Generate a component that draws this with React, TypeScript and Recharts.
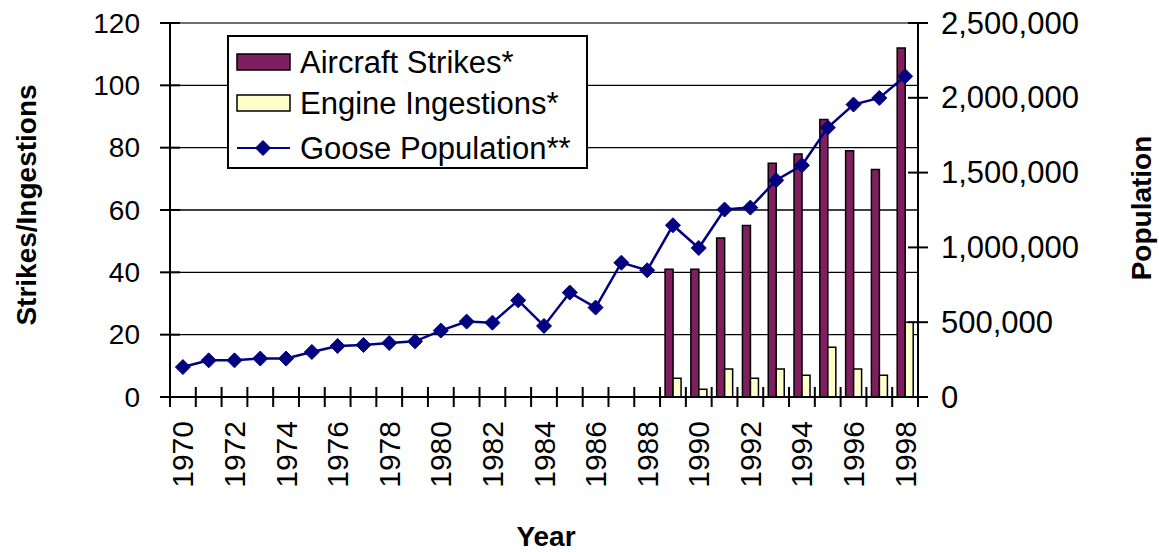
import { ComposedChart, Bar, Line, XAxis, YAxis, CartesianGrid, Legend, ReferenceLine } from "recharts";

const years = [
  "1970", "1971", "1972", "1973", "1974", "1975", "1976", "1977", "1978", "1979",
  "1980", "1981", "1982", "1983", "1984", "1985", "1986", "1987", "1988", "1989",
  "1990", "1991", "1992", "1993", "1994", "1995", "1996", "1997", "1998",
];

const aircraftStrikes = [
  null, null, null, null, null, null, null, null, null, null,
  null, null, null, null, null, null, null, null, null, 41,
  41, 51, 55, 75, 78, 89, 79, 73, 112,
];

const engineIngestions = [
  null, null, null, null, null, null, null, null, null, null,
  null, null, null, null, null, null, null, null, null, 6,
  2.5, 9, 6, 9, 7, 16, 9, 7, 24,
];

const goosePopulation = [
  200000, 245000, 245000, 257000, 257000, 301000, 341000, 348000, 361000, 372000,
  444000, 504000, 497000, 646000, 475000, 698000, 598000, 898000, 847000, 1148000,
  996000, 1253000, 1266000, 1449000, 1549000, 1801000, 1955000, 1999000, 2144000,
];

const leftTicks = [0, 20, 40, 60, 80, 100, 120];
const rightTicks = [0, 500000, 1000000, 1500000, 2000000, 2500000];

const data = years.map((year, i) => ({
  year,
  strikes: aircraftStrikes[i],
  ingestions: engineIngestions[i],
  geese: goosePopulation[i],
}));

const W = 1159;
const H = 552;
const LEFT_W = 170;
const RIGHT_W = 241;
const TOP = 23;
const X_H = 155;
const BAND = (W - LEFT_W - RIGHT_W) / years.length;
const FONT = "'Liberation Sans', Arial, sans-serif";
const NAVY = "#000080";
const PLUM = "#7f1f5f";
const CREAM = "#ffffcc";

function Diamond(props: any) {
  const { cx, cy } = props;
  if (cx == null || cy == null) return null;
  const r = 7.5;
  return (
    <polygon
      points={`${cx},${cy - r} ${cx + r},${cy} ${cx},${cy + r} ${cx - r},${cy}`}
      fill={NAVY}
      stroke={NAVY}
      strokeWidth={1}
    />
  );
}

function YearTick(props: any) {
  const { x, y, index } = props;
  const value = props.payload.value;
  const last = index === years.length - 1;
  return (
    <g>
      <line x1={x - BAND / 2} x2={x - BAND / 2} y1={y - 10} y2={y + 10} stroke="#000" strokeWidth={2} />
      {last && <line x1={x + BAND / 2} x2={x + BAND / 2} y1={y - 10} y2={y + 10} stroke="#000" strokeWidth={2} />}
      {index % 2 === 0 && (
        <text
          x={x}
          y={y + 24}
          transform={`rotate(-90, ${x}, ${y + 24})`}
          textAnchor="end"
          dominantBaseline="central"
          fontSize={30}
          fontFamily={FONT}
          fill="#000"
        >
          {value}
        </text>
      )}
    </g>
  );
}

function LeftTick(props: any) {
  const { x, y } = props;
  return (
    <g>
      <line x1={x - 10} x2={x + 10} y1={y} y2={y} stroke="#000" strokeWidth={2} />
      <text x={x - 30} y={y} textAnchor="end" dominantBaseline="central" fontSize={28} fontFamily={FONT} fill="#000">
        {props.payload.value}
      </text>
    </g>
  );
}

function RightTick(props: any) {
  const { x, y } = props;
  return (
    <g>
      <line x1={x - 10} x2={x + 10} y1={y} y2={y} stroke="#000" strokeWidth={2} />
      <text x={x + 23} y={y} textAnchor="start" dominantBaseline="central" fontSize={31} fontFamily={FONT} fill="#000">
        {Number(props.payload.value).toLocaleString("en-US")}
      </text>
    </g>
  );
}

function LegendBox() {
  const rows = [
    { label: "Aircraft Strikes*", kind: "bar", color: PLUM },
    { label: "Engine Ingestions*", kind: "bar", color: CREAM },
    { label: "Goose Population**", kind: "line", color: NAVY },
  ];
  const rowY = [27, 68, 113];
  return (
    <svg width={361} height={134} style={{ display: "block" }}>
      <rect x={1} y={1} width={359} height={132} fill="#fff" stroke="#000" strokeWidth={2} />
      {rows.map((r, i) => (
        <g key={r.label}>
          {r.kind === "bar" ? (
            <rect x={10} y={rowY[i] - 8} width={53} height={16} fill={r.color} stroke="#000" strokeWidth={1.5} />
          ) : (
            <g>
              <line x1={10} x2={63} y1={rowY[i]} y2={rowY[i]} stroke={r.color} strokeWidth={2} />
              <Diamond cx={36} cy={rowY[i]} />
            </g>
          )}
          <text x={73} y={rowY[i]} dominantBaseline="central" fontSize={31} fontFamily={FONT} fill="#000">
            {r.label}
          </text>
        </g>
      ))}
    </svg>
  );
}

export default function App() {
  return (
    <div style={{ position: "absolute", left: 0, top: 0, background: "#fff" }}>
      <ComposedChart
        width={W}
        height={H}
        data={data}
        margin={{ top: TOP, right: 0, bottom: 0, left: 0 }}
        barGap={0}
        barCategoryGap={0}
      >
        <CartesianGrid horizontal vertical={false} stroke="#000" strokeWidth={1.3} yAxisId="left" />
        <XAxis
          dataKey="year"
          height={X_H}
          interval={0}
          tickSize={0}
          tickMargin={0}
          tickLine={false}
          tick={<YearTick />}
          axisLine={{ stroke: "#000", strokeWidth: 2 }}
          label={{
            content: () => (
              <text x={546} y={536} textAnchor="middle" dominantBaseline="central" fontSize={28} fontWeight="bold" fontFamily={FONT} fill="#000">
                Year
              </text>
            ),
          }}
        />
        <YAxis
          yAxisId="left"
          orientation="left"
          width={LEFT_W}
          domain={[0, 120]}
          ticks={leftTicks}
          interval={0}
          tickSize={0}
          tickMargin={0}
          tickLine={false}
          tick={<LeftTick />}
          axisLine={{ stroke: "#000", strokeWidth: 2 }}
          label={{
            content: () => (
              <text
                x={26}
                y={205}
                transform="rotate(-90, 26, 205)"
                textAnchor="middle"
                dominantBaseline="central"
                fontSize={28}
                fontWeight="bold"
                fontFamily={FONT}
                fill="#000"
              >
                Strikes/Ingestions
              </text>
            ),
          }}
        />
        <YAxis
          yAxisId="right"
          orientation="right"
          width={RIGHT_W}
          domain={[0, 2500000]}
          ticks={rightTicks}
          interval={0}
          tickSize={0}
          tickMargin={0}
          tickLine={false}
          tick={<RightTick />}
          axisLine={{ stroke: "#000", strokeWidth: 2 }}
          label={{
            content: () => (
              <text
                x={1141}
                y={208}
                transform="rotate(-90, 1141, 208)"
                textAnchor="middle"
                dominantBaseline="central"
                fontSize={28}
                fontWeight="bold"
                fontFamily={FONT}
                fill="#000"
              >
                Population
              </text>
            ),
          }}
        />
        <ReferenceLine yAxisId="left" y={120} stroke="#808080" strokeWidth={1.5} />
        <Legend
          layout="vertical"
          align="center"
          verticalAlign="middle"
          content={() => <LegendBox />}
          wrapperStyle={{ position: "absolute", left: 227, top: 35, width: 361, height: 134 }}
        />
        <Bar yAxisId="left" dataKey="strikes" name="Aircraft Strikes*" fill={PLUM} stroke="#000" strokeWidth={1.5} barSize={8} isAnimationActive={false} />
        <Bar yAxisId="left" dataKey="ingestions" name="Engine Ingestions*" fill={CREAM} stroke="#000" strokeWidth={1.5} barSize={8} isAnimationActive={false} />
        <Line
          yAxisId="right"
          dataKey="geese"
          name="Goose Population**"
          stroke={NAVY}
          strokeWidth={2.5}
          dot={<Diamond />}
          activeDot={false}
          isAnimationActive={false}
        />
      </ComposedChart>
    </div>
  );
}
